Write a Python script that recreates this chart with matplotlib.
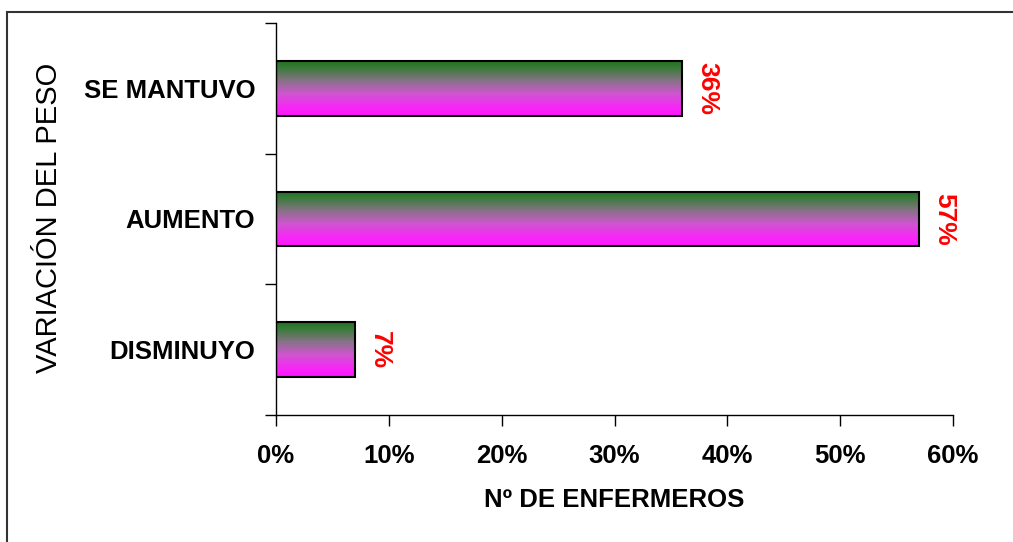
import numpy as np
import matplotlib
matplotlib.use("Agg")
import matplotlib.pyplot as plt
from matplotlib.colors import LinearSegmentedColormap
from matplotlib.patches import Rectangle

plt.rcParams['font.family'] = ['Liberation Sans', 'DejaVu Sans']

categories = ['DISMINUYO', 'AUMENTO', 'SE MANTUVO']
values = [7, 57, 36]
labels = ['7%', '57%', '36%']
xticks = [0, 10, 20, 30, 40, 50, 60]

# green on top -> magenta at the bottom
grad = LinearSegmentedColormap.from_list('gm', [
    (0.0, (0.13, 0.45, 0.13)),
    (0.12, (0.22, 0.48, 0.22)),
    (0.35, (0.52, 0.45, 0.52)),
    (0.6, (0.82, 0.33, 0.82)),
    (0.85, (0.97, 0.15, 0.97)),
    (1.0, (1.0, 0.08, 1.0)),
])

fig = plt.figure(figsize=(10.13, 5.42), dpi=100)
ax = fig.add_axes([0.2725, 0.2343, 0.6683, 0.7233])

ypos = np.arange(len(categories))
bars = ax.barh(ypos, values, height=0.42, facecolor='none', edgecolor='black',
               linewidth=1.5, zorder=3)

g = np.linspace(0, 1, 256).reshape(-1, 1)
for b in bars:
    x0, y0 = b.get_x(), b.get_y()
    w, h = b.get_width(), b.get_height()
    ax.imshow(g, cmap=grad, aspect='auto', extent=[x0, x0 + w, y0, y0 + h],
              origin='upper', zorder=2, interpolation='bilinear')

for y, v, lab in zip(ypos, values, labels):
    ax.text(v + 2.2, y, lab, rotation=-90, color='red', fontsize=19,
            fontweight='bold', ha='center', va='center')

ax.set_xlim(0, 60)
ax.set_ylim(-0.5, 2.5)
ax.set_xticks(xticks)
ax.set_xticklabels([f'{t}%' for t in xticks], fontsize=18.5, fontweight='bold')
ax.tick_params(axis='x', length=8, width=1, pad=13)

ax.set_yticks(np.arange(-0.5, len(categories), 1.0))
ax.set_yticklabels([])
ax.set_yticks(ypos, minor=True)
ax.set_yticklabels(categories, minor=True, fontsize=18.5, fontweight='bold')
ax.tick_params(axis='y', which='major', length=8, width=1)
ax.tick_params(axis='y', which='minor', length=0, pad=15)

for s in ['top', 'right']:
    ax.spines[s].set_visible(False)
for s in ['left', 'bottom']:
    ax.spines[s].set_linewidth(1)

ax.set_xlabel('Nº DE ENFERMEROS', fontsize=18.5, fontweight='bold')
ax.xaxis.set_label_coords(0.5, (415 - 500) / (542 * 0.7233))
ax.xaxis.label.set_va('center')
fig.text(0.048, 1 - 218 / 542, 'VARIACIÓN DEL PESO', rotation=90, fontsize=21,
         ha='center', va='center')

# outer frame, cut by the image edges on the right and bottom
fig.patches.append(Rectangle((7 / 1013, -0.1), 1.2, (542 - 12) / 542 + 0.1,
                             transform=fig.transFigure, fill=False,
                             edgecolor='#333333', linewidth=1.5))

fig.savefig('out.png', dpi=100)
